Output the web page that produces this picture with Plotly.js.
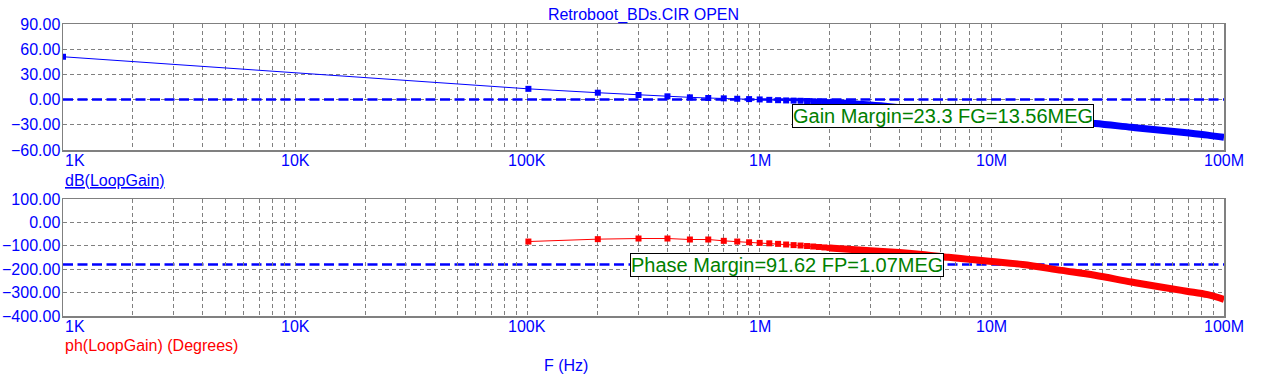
<!DOCTYPE html>
<html>
<head>
<meta charset="utf-8">
<script src="https://cdn.plot.ly/plotly-3.0.1.min.js"></script>
<style>html,body{margin:0;padding:0;background:#fff;}#chart{width:1267px;height:390px;}</style>
</head>
<body>
<div id="chart"></div>
<script>
// ---- data ----
const chartTitle = 'Retroboot_BDs.CIR OPEN';
// linear sweep points where individual markers are visible (Hz)
const freqSweep = [1e3, 101e3, 201e3, 301e3, 401e3, 501e3, 601e3, 701e3, 801e3, 901e3, 1001e3,
                   1101e3, 1201e3, 1301e3, 1401e3, 1501e3, 1601e3, 1701e3, 1801e3, 1901e3, 2001e3];
const gainSweep = [51.0, 12.8, 8.2, 5.5, 3.9, 2.7, 1.9, 1.5, 1.0, 0.6, 0.2,
                   -0.3, -0.7, -1.0, -1.2, -1.4, -1.7, -2.0, -2.4, -2.8, -3.2];
const phaseSweep = [null, -81.8, -71.6, -68.9, -68.9, -73.1, -73.1, -78.8, -81.8, -85.0, -87.5,
                    -89.3, -91.7, -94.5, -97.0, -98.8, -101.0, -103.0, -105.0, -107.0, -109.0];
// dense part of the sweep (points merge into a thick band)
const freqDense  = [2.001e6, 3e6, 4e6, 5e6, 6.5e6, 8e6, 10e6, 13.56e6, 20e6, 27.8e6, 40e6, 55e6, 69e6, 85e6, 100e6];
const gainDense  = [-3.2, -6.5, -9.5, -12.0, -15.0, -17.8, -20.3, -23.3, -26.2, -28.5, -33.0, -36.7, -39.5, -42.3, -44.9];
const phaseDense = [-109, -121, -129, -137, -149, -158, -167, -180, -205, -226, -255, -278, -294, -309, -329];
// reference levels
const gainRef = [0];
const phaseRef = [-180];
// margins
const gainMarginText = 'Gain Margin=23.3 FG=13.56MEG';
const phaseMarginText = 'Phase Margin=91.62 FP=1.07MEG';
const FG = [13.56e6];
const FP = [1.07e6];
const phaseAtFP = [-88.38];
// tick labels
const xTickVals = [1e3, 1e4, 1e5, 1e6, 1e7, 1e8];
const xTickText = ['1K', '10K', '100K', '1M', '10M', '100M'];
const gainLabel = 'dB(LoopGain)';
const phaseLabel = 'ph(LoopGain) (Degrees)';
const xLabel = 'F (Hz)';

// ---- styling ----
const FONT = 'Liberation Sans, Arial, sans-serif';
const BLUE = '#0000ff', RED = '#ff0000', GREEN = '#008000', GRID = '#808080';
const W = 1267, H = 390, L = 63, R = 43, T = 24, B = 74;
const plotH = H - T - B;
const pyToPaper = py => (H - B - py) / plotH;
const pxToPaper = px => (px - L) / (W - L - R);

// grid positions for log axis (decades + 2..9)
const gridVals = [];
for (let d = 3; d < 8; d++) for (let m = 1; m <= 9; m++) gridVals.push(m * Math.pow(10, d));
gridVals.push(1e8);

const traces = [
  {x: freqSweep, y: gainSweep, xaxis: 'x', yaxis: 'y', mode: 'lines+markers', type: 'scatter',
   line: {color: BLUE, width: 1}, marker: {symbol: 'square', size: 6, color: BLUE}},
  {x: freqDense, y: gainDense, xaxis: 'x', yaxis: 'y', mode: 'lines', type: 'scatter',
   line: {color: BLUE, width: 7, shape: 'spline'}},
  {x: freqSweep, y: phaseSweep, xaxis: 'x2', yaxis: 'y2', mode: 'lines+markers', type: 'scatter',
   line: {color: RED, width: 1}, marker: {symbol: 'square', size: 6, color: RED}},
  {x: freqDense, y: phaseDense, xaxis: 'x2', yaxis: 'y2', mode: 'lines', type: 'scatter',
   line: {color: RED, width: 7, shape: 'spline'}}
];

const xCommon = {
  type: 'log', range: [3, 8], tickmode: 'array', tickvals: gridVals, showticklabels: false,
  showgrid: true, gridcolor: GRID, gridwidth: 1, griddash: '4px,3px',
  showline: true, mirror: true, linecolor: GRID, linewidth: 1.5, ticks: '', zeroline: false
};
const yCommon = {
  tickformat: '.2f', showgrid: true, gridcolor: GRID, gridwidth: 1, griddash: '4px,3px',
  showline: true, mirror: true, linecolor: GRID, linewidth: 1.5, ticks: '', zeroline: false,
  tickfont: {family: FONT, size: 16, color: BLUE}, ticklabelstandoff: -2
};

const annotations = [];
xTickVals.forEach((v, i) => {
  [pyToPaper(160), pyToPaper(326.5)].forEach((yy, k) => {
    annotations.push({xref: k === 0 ? 'x' : 'x2', yref: 'paper', x: Math.log10(v), y: yy,
      text: xTickText[i], showarrow: false, xanchor: i === 0 ? 'left' : 'center', yanchor: 'middle',
      font: {family: FONT, size: 16, color: BLUE}});
  });
});
annotations.push({xref: 'paper', yref: 'paper', x: 0, y: pyToPaper(180), text: gainLabel,
  showarrow: false, xanchor: 'left', yanchor: 'middle',
  font: {family: FONT, size: 16, color: BLUE, lineposition: 'under'}});
annotations.push({xref: 'paper', yref: 'paper', x: 0, y: pyToPaper(345), text: phaseLabel,
  showarrow: false, xanchor: 'left', yanchor: 'middle', font: {family: FONT, size: 16, color: RED}});
annotations.push({xref: 'paper', yref: 'paper', x: pxToPaper(566), y: pyToPaper(365), text: xLabel,
  showarrow: false, xanchor: 'center', yanchor: 'middle', font: {family: FONT, size: 16, color: BLUE}});
annotations.push({xref: 'paper', yref: 'paper', x: pxToPaper(792), y: pyToPaper(115.5), text: gainMarginText,
  showarrow: false, xanchor: 'left', yanchor: 'middle', bgcolor: '#ffffff', bordercolor: '#000000',
  borderwidth: 1, borderpad: 0, font: {family: FONT, size: 20, color: GREEN}});
annotations.push({xref: 'paper', yref: 'paper', x: pxToPaper(630), y: pyToPaper(265.3), text: phaseMarginText,
  showarrow: false, xanchor: 'left', yanchor: 'middle', bgcolor: '#ffffff', bordercolor: '#000000',
  borderwidth: 1, borderpad: 0, font: {family: FONT, size: 20, color: GREEN}});

const shapes = [
  {type: 'line', xref: 'x domain', yref: 'y', x0: 0, x1: 1, y0: gainRef[0], y1: gainRef[0],
   line: {color: BLUE, width: 2.5, dash: '10px,4.5px'}, layer: 'above'},
  {type: 'line', xref: 'x2 domain', yref: 'y2', x0: 0, x1: 1, y0: phaseRef[0], y1: phaseRef[0],
   line: {color: BLUE, width: 2.5, dash: '10px,4.5px'}, layer: 'below'},
  {type: 'line', xref: 'x', yref: 'y', x0: Math.log10(FG[0]), x1: Math.log10(FG[0]), y0: gainRef[0] + 0.8, y1: gainRef[0] - 2.5,
   line: {color: RED, width: 2}},
  {type: 'line', xref: 'x2', yref: 'y2', x0: Math.log10(FP[0]), x1: Math.log10(FP[0]), y0: phaseAtFP[0], y1: phaseAtFP[0] - 35,
   line: {color: RED, width: 2}}
];

const layout = {
  width: W, height: H, margin: {l: L, r: R, t: T, b: B},
  paper_bgcolor: '#ffffff', plot_bgcolor: '#ffffff', showlegend: false,
  title: {text: chartTitle, x: 0.5, xref: 'paper', y: 1 - 14 / H, yref: 'container', yanchor: 'middle',
          font: {family: FONT, size: 16, color: BLUE}},
  xaxis: Object.assign({}, xCommon, {domain: [0, 1], anchor: 'y'}),
  yaxis: Object.assign({}, yCommon, {domain: [pyToPaper(150), 1], range: [-60, 90], dtick: 30, tick0: 0, anchor: 'x'}),
  xaxis2: Object.assign({}, xCommon, {domain: [0, 1], anchor: 'y2'}),
  yaxis2: Object.assign({}, yCommon, {domain: [0, pyToPaper(199)], range: [-400, 100], dtick: 100, tick0: 0, anchor: 'x2'}),
  annotations: annotations, shapes: shapes
};

Plotly.newPlot('chart', traces, layout, {staticPlot: true, displayModeBar: false});
</script>
</body>
</html>
